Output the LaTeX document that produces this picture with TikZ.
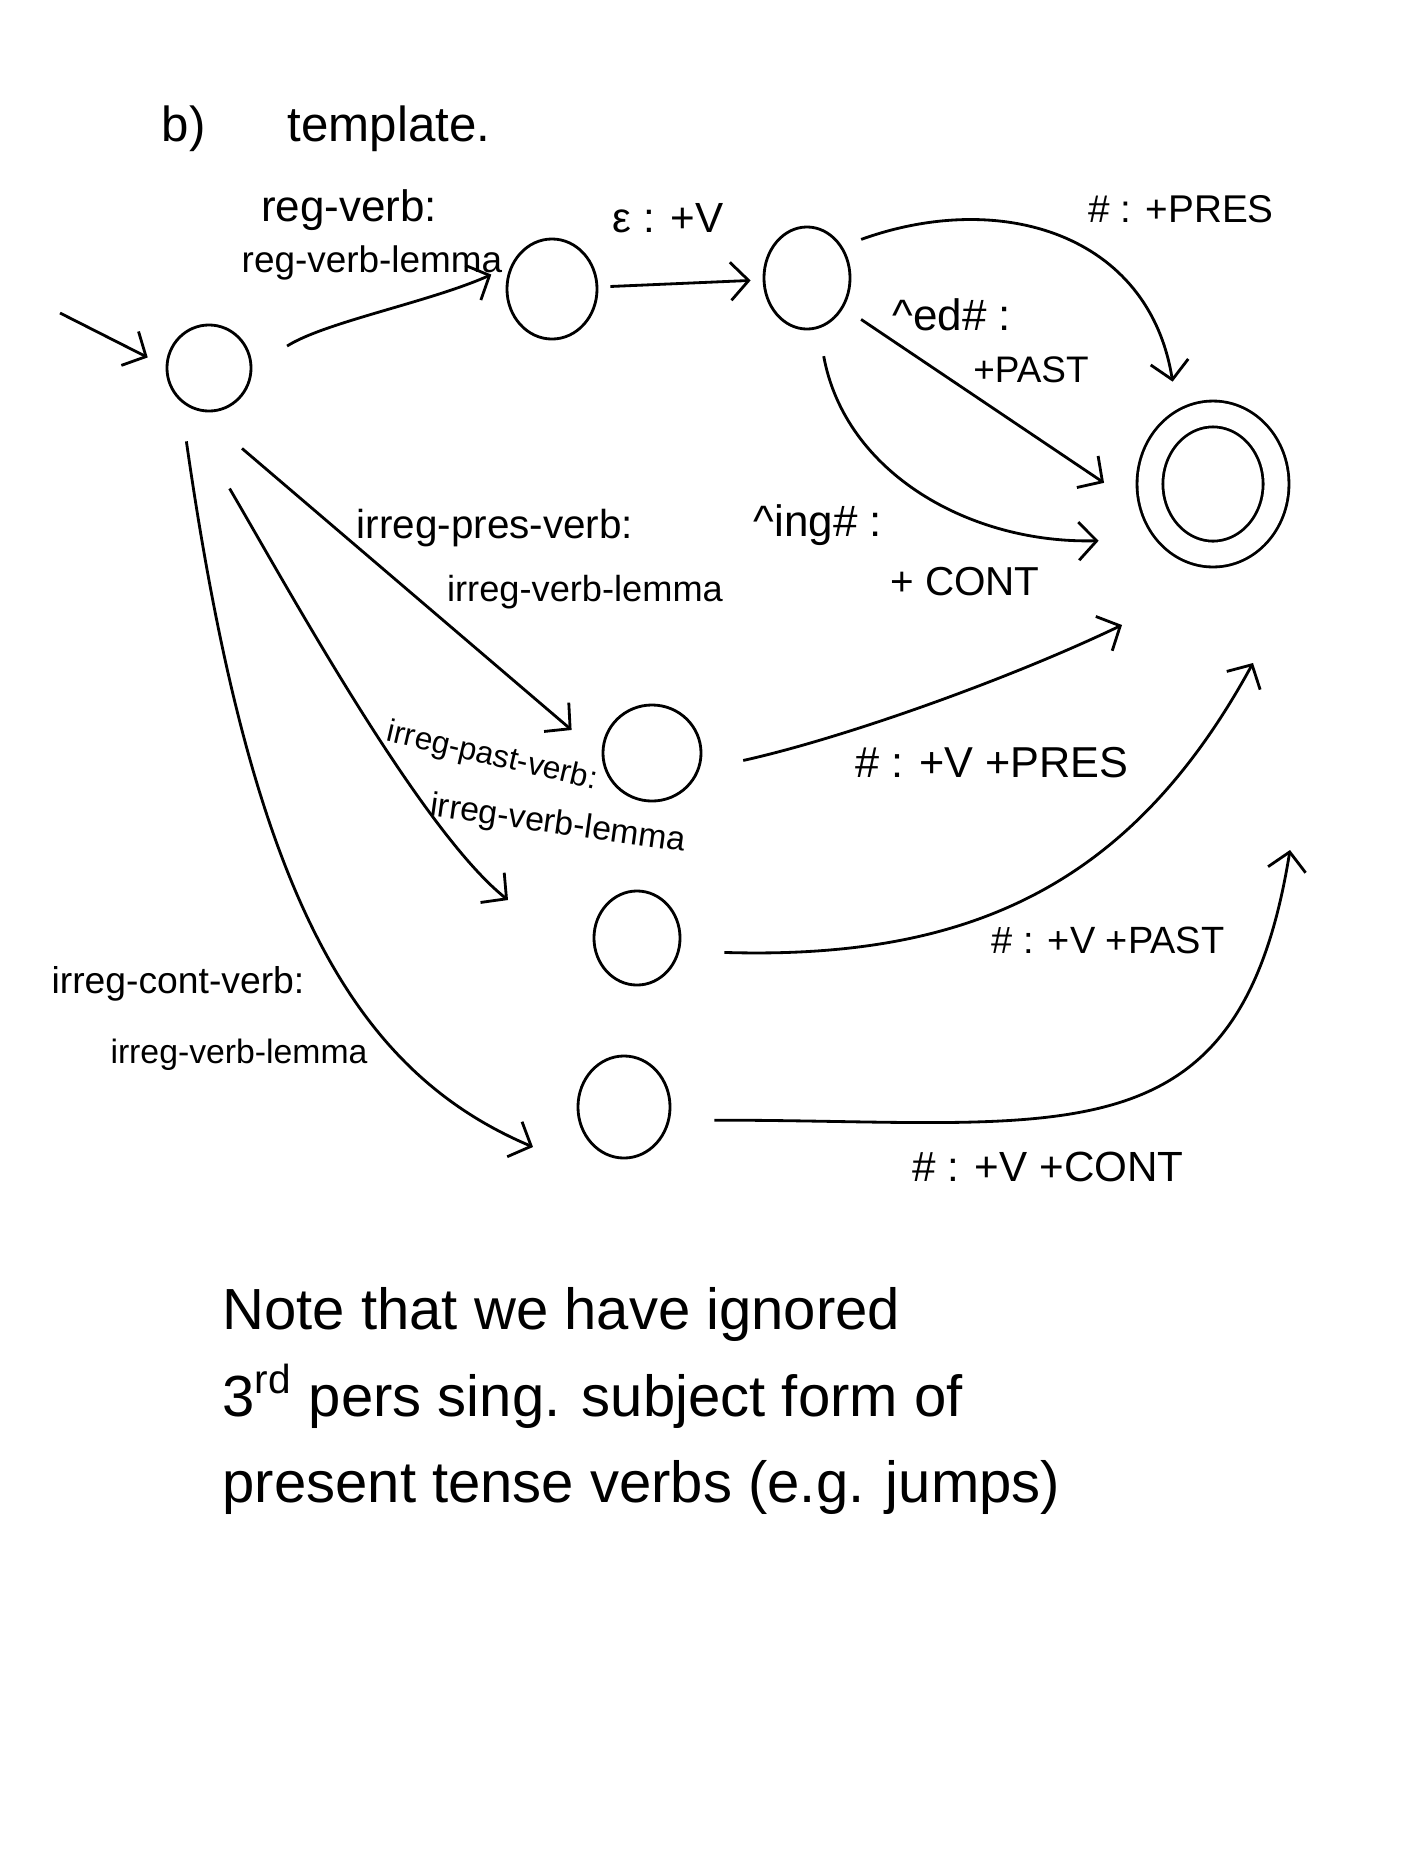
\documentclass[tikz,border=0pt]{standalone}
\usepackage{fontspec}
\setmainfont{Liberation Sans}
\usetikzlibrary{arrows.meta,shapes.geometric}
\begin{document}
\begin{tikzpicture}[x=0.01cm,y=-0.01cm,
  state/.style={draw,ellipse,inner sep=0pt,line width=0.8pt},
  final/.style={state,double,double distance=2.3mm},
  arr/.style={line width=0.8pt,-{Straight Barb[length=1.8mm,width=3.8mm]}},
  lab/.style={inner sep=0pt},
]
\fill[white] (0,0) rectangle (1404,1872);
\useasboundingbox (0,0) rectangle (1404,1872);

% title
\node[lab,font=\fontsize{14}{16}\selectfont,anchor=base west] (b) at (161,141) {b)};
\node[lab,font=\fontsize{14}{16}\selectfont,anchor=base west] (tpl) at (287,141) {template.};

% states
\node[state,minimum width=8.4mm,minimum height=8.6mm] (q0) at (209,368) {};
\node[state,minimum width=9mm,minimum height=10mm] (q1) at (552,289) {};
\node[state,minimum width=8.6mm,minimum height=10.2mm] (q2) at (807,278) {};
\node[state,minimum width=9.8mm,minimum height=9.6mm] (q3) at (652,753) {};
\node[state,minimum width=8.6mm,minimum height=9.4mm] (q4) at (637,938) {};
\node[state,minimum width=9.2mm,minimum height=10.2mm] (q5) at (624,1107) {};
\node[final,minimum width=12.6mm,minimum height=14mm] (F) at (1213,484) {};

% free ends
\coordinate (init) at (60,313);
\coordinate (t4) at (508,900);
\coordinate (t5) at (533,1147);
\coordinate (t3F) at (1122,625);
\coordinate (t4F) at (1253,663);
\coordinate (t5F) at (1290,850);

% connectors
\draw[arr,shorten >=2mm] (init) -- (q0.178);
\draw[arr,shorten <=4.1mm,shorten >=2.1mm] (q0.east) .. controls (325,322) and (430,302) .. (q1.151);
\draw[arr,shorten <=1.2mm,shorten >=1.2mm] (q1) -- (q2);
\draw[arr,shorten <=2mm,shorten >=4.2mm] (q2.42) .. controls (1001,189) and (1149,234) .. (F.119);
\draw[arr,shorten <=2.1mm,shorten >=6.3mm] (q2.-39) -- (F.211);
\draw[arr,shorten <=2.8mm,shorten >=7.3mm] (q2.-77) .. controls (845,473) and (970,544) .. (F.233);
\draw[arr,shorten <=5.75mm,shorten >=3.95mm] (q0.-104) -- (q3.183);
\draw[arr,shorten <=10.7mm] (q0.-140) .. controls (285,583) and (420,830) .. (t4);
\draw[arr,shorten <=4mm] (q0.-130) .. controls (250,886) and (349,1069) .. (t5);
\draw[arr,shorten <=4.5mm] (q3.-20) .. controls (840,739) and (1005,681) .. (t3F);
\draw[arr,shorten <=4.45mm] (q4.-17) .. controls (973,960) and (1133,883) .. (t4F);
\draw[arr,shorten <=4.45mm] (q5.-16) .. controls (1063,1120) and (1239,1167) .. (t5F);

% labels
\node[lab,font=\fontsize{12.5}{14}\selectfont] (l1a) at (349,210) {reg-verb:};
\node[lab,font=\fontsize{10.5}{12}\selectfont] (l1b) at (372,263) {reg-verb-lemma};
\node[lab,font=\fontsize{12}{14}\selectfont] (l2) at (668,218) {ε : +V};
\node[lab,font=\fontsize{11}{13}\selectfont] (l3) at (1181,209) {\# : +PRES};
\node[lab,font=\fontsize{12.5}{14}\selectfont] (l4a) at (952,315) {\textasciicircum ed\# :};
\node[lab,font=\fontsize{10.5}{12}\selectfont] (l4b) at (1031,370) {+PAST};
\node[lab,font=\fontsize{12.5}{14}\selectfont] (l5a) at (818,525) {\textasciicircum ing\# :};
\node[lab,font=\fontsize{11.5}{13}\selectfont] (l5b) at (965,582) {+ CONT};
\node[lab,font=\fontsize{11.5}{13}\selectfont] (l6a) at (495,528) {irreg-pres-verb:};
\node[lab,font=\fontsize{10.3}{12}\selectfont] (l6b) at (585,592) {irreg-verb-lemma};
\node[lab,font=\fontsize{9}{11}\selectfont,rotate=-13] (l7a) at (492,757) {irreg-past-verb:};
\node[lab,font=\fontsize{9.6}{11}\selectfont,rotate=-8] (l7b) at (558,825) {irreg-verb-lemma};
\node[lab,font=\fontsize{10.6}{12}\selectfont] (l8a) at (178,984) {irreg-cont-verb:};
\node[lab,font=\fontsize{9.6}{11}\selectfont] (l8b) at (239,1055) {irreg-verb-lemma};
\node[lab,font=\fontsize{12.3}{14}\selectfont] (l9) at (992,763) {\# : +V +PRES};
\node[lab,font=\fontsize{10.8}{13}\selectfont] (l10) at (1108,940) {\# : +V +PAST};
\node[lab,font=\fontsize{12}{14}\selectfont] (l11) at (1048,1167) {\# : +V +CONT};

% note
\node[lab,font=\fontsize{16.5}{24.5}\selectfont,align=left,anchor=west] (note) at (222,1401)
  {Note that we have ignored\\3\textsuperscript{rd} pers sing. subject form of\\present tense verbs (e.g. jumps)};
\end{tikzpicture}
\end{document}
